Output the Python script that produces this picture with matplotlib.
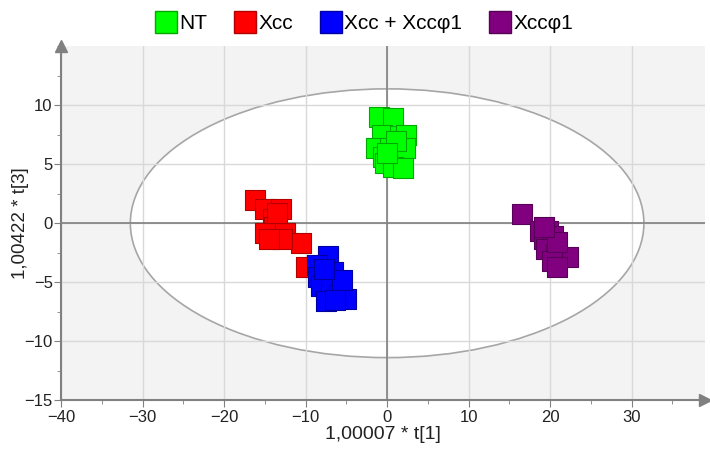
import matplotlib.pyplot as plt
from matplotlib.patches import Ellipse
from matplotlib.lines import Line2D
from matplotlib.ticker import MultipleLocator

plt.rcParams['font.family'] = ['Liberation Sans', 'DejaVu Sans']

# score values per group
nt_x = [-1.05, 0.7, -0.65, 1.6, 2.3, -1.4, 0.3, 2.2, -0.5, -0.2, 0.7, 2.0, 1.1, 0.0]
nt_y = [9.05, 8.9, 7.5, 7.4, 7.5, 6.4, 6.4, 6.4, 5.6, 5.1, 4.8, 4.7, 7.0, 6.0]

xcc_x = [-16.2, -15.0, -13.05, -14.0, -13.9, -15.0, -12.5, -10.6, -12.9, -9.9, -14.5, -13.5]
xcc_y = [2.0, 1.2, 1.25, 0.4, -0.3, -0.85, -0.85, -1.7, -1.3, -3.7, -1.35, 0.9]

mix_x = [-7.3, -8.6, -6.6, -8.5, -8.1, -6.9, -5.9, -5.1, -7.5, -6.4, -5.5, -7.8]
mix_y = [-2.8, -3.55, -4.1, -4.6, -5.3, -5.3, -6.1, -6.4, -6.6, -6.5, -4.8, -3.9]

phi_x = [16.5, 18.8, 19.75, 19.3, 20.3, 19.5, 20.7, 22.2, 20.2, 20.8, 20.9, 19.2]
phi_y = [0.8, -0.7, -0.7, -1.35, -1.1, -2.2, -2.6, -2.9, -3.2, -3.7, -1.6, -0.3]

labels = ['NT', 'Xcc', 'Xcc + Xccφ1', 'Xccφ1']
colors = ['#00ff00', '#ff0000', '#0000ff', '#800080']
edges = ['#00a800', '#b00000', '#0000a0', '#560056']

# Hotelling T2 ellipse semi-axes
ell_a, ell_b = 31.5, 11.4

fig = plt.figure(figsize=(7.1, 4.51), dpi=100)
ax = fig.add_axes([0.086, 0.113, 0.907, 0.784])
ax.set_facecolor('#f3f3f3')

ax.add_patch(Ellipse((0, 0), 2 * ell_a, 2 * ell_b, facecolor='white',
                     edgecolor='#a6a6a6', lw=1.2, zorder=0.5))

ax.set_xlim(-40, 39)
ax.set_ylim(-15, 15)
ax.xaxis.set_major_locator(MultipleLocator(10))
ax.xaxis.set_minor_locator(MultipleLocator(5))
ax.set_yticks([-15, -10, -5, 0, 5, 10])
ax.yaxis.set_minor_locator(MultipleLocator(2.5))

ax.grid(True, which='major', color='#d9d9d9', lw=1, zorder=0.8)
ax.set_axisbelow(True)
ax.axhline(0, color='#808080', lw=1.2, zorder=1)
ax.axvline(0, color='#808080', lw=1.2, zorder=1)

groups = [(nt_x, nt_y), (xcc_x, xcc_y), (mix_x, mix_y), (phi_x, phi_y)]
for (gx, gy), c, ec in zip(groups, colors, edges):
    ax.scatter(gx, gy, marker='s', s=190, facecolor=c, edgecolor=ec,
               linewidths=0.8, zorder=3)

for side in ['top', 'right']:
    ax.spines[side].set_visible(False)
for side in ['left', 'bottom']:
    ax.spines[side].set_color('#808080')
    ax.spines[side].set_linewidth(1.5)

# arrow heads on the axes
ax.plot(1, 0, marker='>', color='#808080', ms=8, transform=ax.transAxes, clip_on=False)
ax.plot(0, 1, marker='^', color='#808080', ms=8, transform=ax.transAxes, clip_on=False)

ax.tick_params(which='major', length=5, color='#808080', labelsize=12, labelcolor='#222222')
ax.tick_params(which='minor', length=3, color='#808080')
ax.tick_params(axis='x', pad=2)
ax.tick_params(axis='y', pad=1)

ax.set_xlabel('1,00007 * t[1]', fontsize=14, color='#222222', labelpad=1)
ax.set_ylabel('1,00422 * t[3]', fontsize=13.5, color='#222222')
ax.yaxis.set_label_coords(-0.05, 0.5)

handles = [Line2D([], [], marker='s', ls='', ms=16, markerfacecolor=c, markeredgecolor=ec)
           for c, ec in zip(colors, edges)]
fig.legend(handles, labels, loc='upper center', bbox_to_anchor=(0.513, 1.01), ncol=4,
           frameon=False, fontsize=15, handletextpad=0.15, columnspacing=1.3,
           handlelength=1.0)

fig.savefig('out.png', dpi=100)
